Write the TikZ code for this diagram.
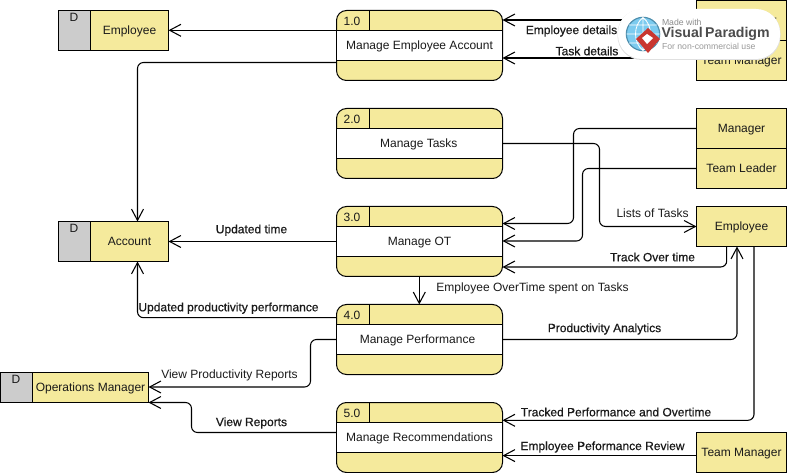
\documentclass[tikz,border=0pt]{standalone}
\usepackage{fontspec}
\setmainfont{Liberation Sans}
\newfontfamily\fakebold[FakeBold=0.6]{Liberation Sans}
\usetikzlibrary{arrows.meta,calc}
\definecolor{dfdyellow}{HTML}{F5EA9C}
\definecolor{dfdgray}{HTML}{CCCCCC}
\definecolor{inkc}{HTML}{1A1A1A}
\definecolor{wmblue}{HTML}{7CCBEF}
\definecolor{wmedge}{HTML}{4F8FAE}
\definecolor{wmred}{HTML}{C9362F}
\tikzset{
  every node/.style={font=\fontsize{9}{11}\selectfont,text=inkc,inner sep=0pt,outer sep=0pt},
  outl/.style={draw=black,line width=.75pt},
  boxt/.style={text height=6.5pt,text depth=0pt},
  extbox/.style={outl,boxt,fill=dfdyellow,minimum width=67.5pt,minimum height=30pt,anchor=north west},
  flow/.style={draw=black,line width=.8pt,rounded corners=4.5pt,-{Straight Barb[length=8.5pt,width=9pt,line width=.8pt]}},
  lab/.style={anchor=center},
  blab/.style={anchor=center,font=\fakebold\fontsize{9}{11}\selectfont},
}
% process: optional text shift, name, top y, number, text
\newcommand{\dfdproc}[5][0]{%
  \node[minimum width=124.5pt,minimum height=52.5pt,anchor=north west,outl,rounded corners=7.5pt,fill=dfdyellow] (#2) at (336.5,#3) {};
  \fill[white] ($(#2.north west)+(0,20)$) rectangle ($(#2.south east)+(0,-20)$);
  \draw[outl] ($(#2.north west)+(0,20)$) -- ($(#2.north east)+(0,20)$);
  \draw[outl] ($(#2.south west)+(0,-20)$) -- ($(#2.south east)+(0,-20)$);
  \draw[outl] ($(#2.north west)+(33,0)$) -- ($(#2.north west)+(33,20)$);
  \draw[outl] (#2.west |- 0,#3+20) -- (#2.west |- 0,#3+50);
  \draw[outl] (#2.east |- 0,#3+20) -- (#2.east |- 0,#3+50);
  \node[boxt] (#2num) at ($(#2.north west)+(15.5,10.2)$) {#4};
  \node[boxt] (#2txt) at ($(#2.center)+(#1,0)$) {#5};
}
% data store: name, left x, top y, total width, height, gray width, text
\newcommand{\dfdstore}[7]{%
  \node[outl,fill=dfdyellow,minimum width=#4*.75pt,minimum height=#5*.75pt,anchor=north west] (#1) at (#2,#3) {};
  \fill[dfdgray] (#1.north west) rectangle ($(#1.south west)+(#6,0)$);
  \draw[outl] (#1.north west) rectangle (#1.south east);
  \draw[outl] ($(#1.north west)+(#6,0)$) -- ($(#1.south west)+(#6,0)$);
  \node[boxt] (#1d) at ($(#1.north west)+(15.5,6.5)$) {D};
  \node[boxt] (#1txt) at ($(#1.west)!0.5!(#1.east)+(#6/2,0)$) {#7};
}
\begin{document}
\begin{tikzpicture}[x=.75pt,y=-.75pt]
\useasboundingbox (0,0) rectangle (787,473);

\dfdproc{pa}{10.5}{1.0}{Manage Employee Account}
\dfdproc[-0.7]{pb}{108.5}{2.0}{Manage Tasks}
\dfdproc{pc}{206.5}{3.0}{Manage OT}
\dfdproc[-2]{pd}{304.5}{4.0}{Manage Performance}
\dfdproc{pe}{402.5}{5.0}{Manage Recommendations}

\dfdstore{sa}{58.5}{10.5}{110}{40}{32}{Employee}
\dfdstore{sb}{58.5}{221.5}{110}{40}{32}{Account}
\dfdstore{sc}{0.5}{372.5}{148}{30}{32}{Operations Manager}

\node[extbox] (ea) at (696.5,0.5) {Team Leader};
\node[extbox] (eb) at (696.5,40.5) {Team Manager};
\node[extbox] (ec) at (696.5,108.5) {Manager};
\node[extbox] (ed) at (696.5,148.5) {Team Leader};
\node[extbox] (ee) at (696.5,206.5) {Employee};
\node[extbox] (ef) at (696.5,432.5) {Team Manager};

% connectors
\draw[flow] (pa.west |- 0,30.3) -- (sa.east |- 0,30.3);
\draw[flow] (pa.west |- 0,62.5) -- (137.5,62.5) -- (sb.north -| 137.5,0);
\draw[flow] (ea.west |- 0,20) -- (pa.east |- 0,20);
\draw[flow] (eb.west |- 0,58) -- (pa.east |- 0,58);
\draw[flow] (ec.west) -- (573.5,128.5) -- (573.5,223.5) -- (pc.east |- 0,223.5);
\draw[flow] (ed.west) -- (582.5,168.5) -- (582.5,241) -- (pc.east |- 0,241);
\draw[flow] (pb.east) -- (599.5,143.5) -- (599.5,226.5) -- (ee.west);
\draw[flow] (ee.south -| 726.7,0) -- (726.7,267) -- (pc.east |- 0,267);
\draw[flow] (pc.south -| 419.3,0) -- (pd.north -| 419.3,0);
\draw[flow] (pd.east) -- (737,339.5) -- (ee.south -| 737,0);
\draw[flow] (ee.south -| 754,0) -- (754,420.3) -- (pe.east |- 0,420.3);
\draw[flow] (ef.west |- 0,455.6) -- (pe.east |- 0,455.6);
\draw[flow] (pc.west) -- (sb.east |- 0,241.5);
\draw[flow] (pd.west |- 0,317.7) -- (137.5,317.7) -- (sb.south -| 137.5,0);
\draw[flow] (pd.west) -- (310.5,339.5) -- (310.5,387) -- (sc.east |- 0,387);
\draw[flow] (pe.west |- 0,432.5) -- (191.5,432.5) -- (191.5,402.5) -- (sc.south east);

% labels
\node[blab] (l1) at (251.5,230.2) {Updated time};
\node[blab] (l2) at (228.5,308.2) {Updated productivity performance};
\node[blab] (l3) at (571.5,31) {Employee details};
\node[blab] (l4) at (587,51) {Task details};
\node[lab]  (l5) at (652.5,213) {Lists of Tasks};
\node[blab] (l6) at (652.5,257) {Track Over time};
\node[lab]  (l7) at (532.5,288) {Employee OverTime spent on Tasks};
\node[blab] (l8) at (604.5,329) {Productivity Analytics};
\node[lab]  (l9) at (229.5,375) {View Productivity Reports};
\node[blab] (l10) at (251.5,423) {View Reports};
\node[blab] (l11) at (616,412) {Tracked Performance and Overtime};
\node[blab] (l12) at (602.5,447) {Employee Peformance Review};

% watermark
\fill[black!12,rounded corners=18pt] (617.5,9.5) rectangle (780.5,60);
\fill[white,rounded corners=18pt] (618,9) rectangle (780,59);
\fill[wmblue,draw=wmedge,line width=.9pt] (643,34) circle (12.5pt);
\draw[white,line width=.6pt] (643,17.5) -- (643,50.5) (626.5,34) -- (659.5,34) (629,25) -- (657,25) (629,43) -- (657,43)
  (643,17.5) .. controls (633,25) and (633,43) .. (643,50.5) (643,17.5) .. controls (653,25) and (653,43) .. (643,50.5);
\fill[wmred] (648,28) -- (660,39) -- (648,53) -- (636,39) -- cycle;
\fill[white] (647,34) -- (653,38) -- (647,44) -- (642,38) -- cycle;
\node[anchor=west,text=black!45,font=\fontsize{6.5}{7}\selectfont] (w1) at (662,22.5) {Made with};
\node[anchor=west,text=black!70,font=\bfseries\fontsize{10.6}{12}\selectfont] (w2) at (661.5,34) {Visual\,Paradigm};
\node[anchor=west,text=black!40,font=\fontsize{6.5}{7}\selectfont] (w3) at (662,46.5) {For non-commercial use};
\end{tikzpicture}
\end{document}
